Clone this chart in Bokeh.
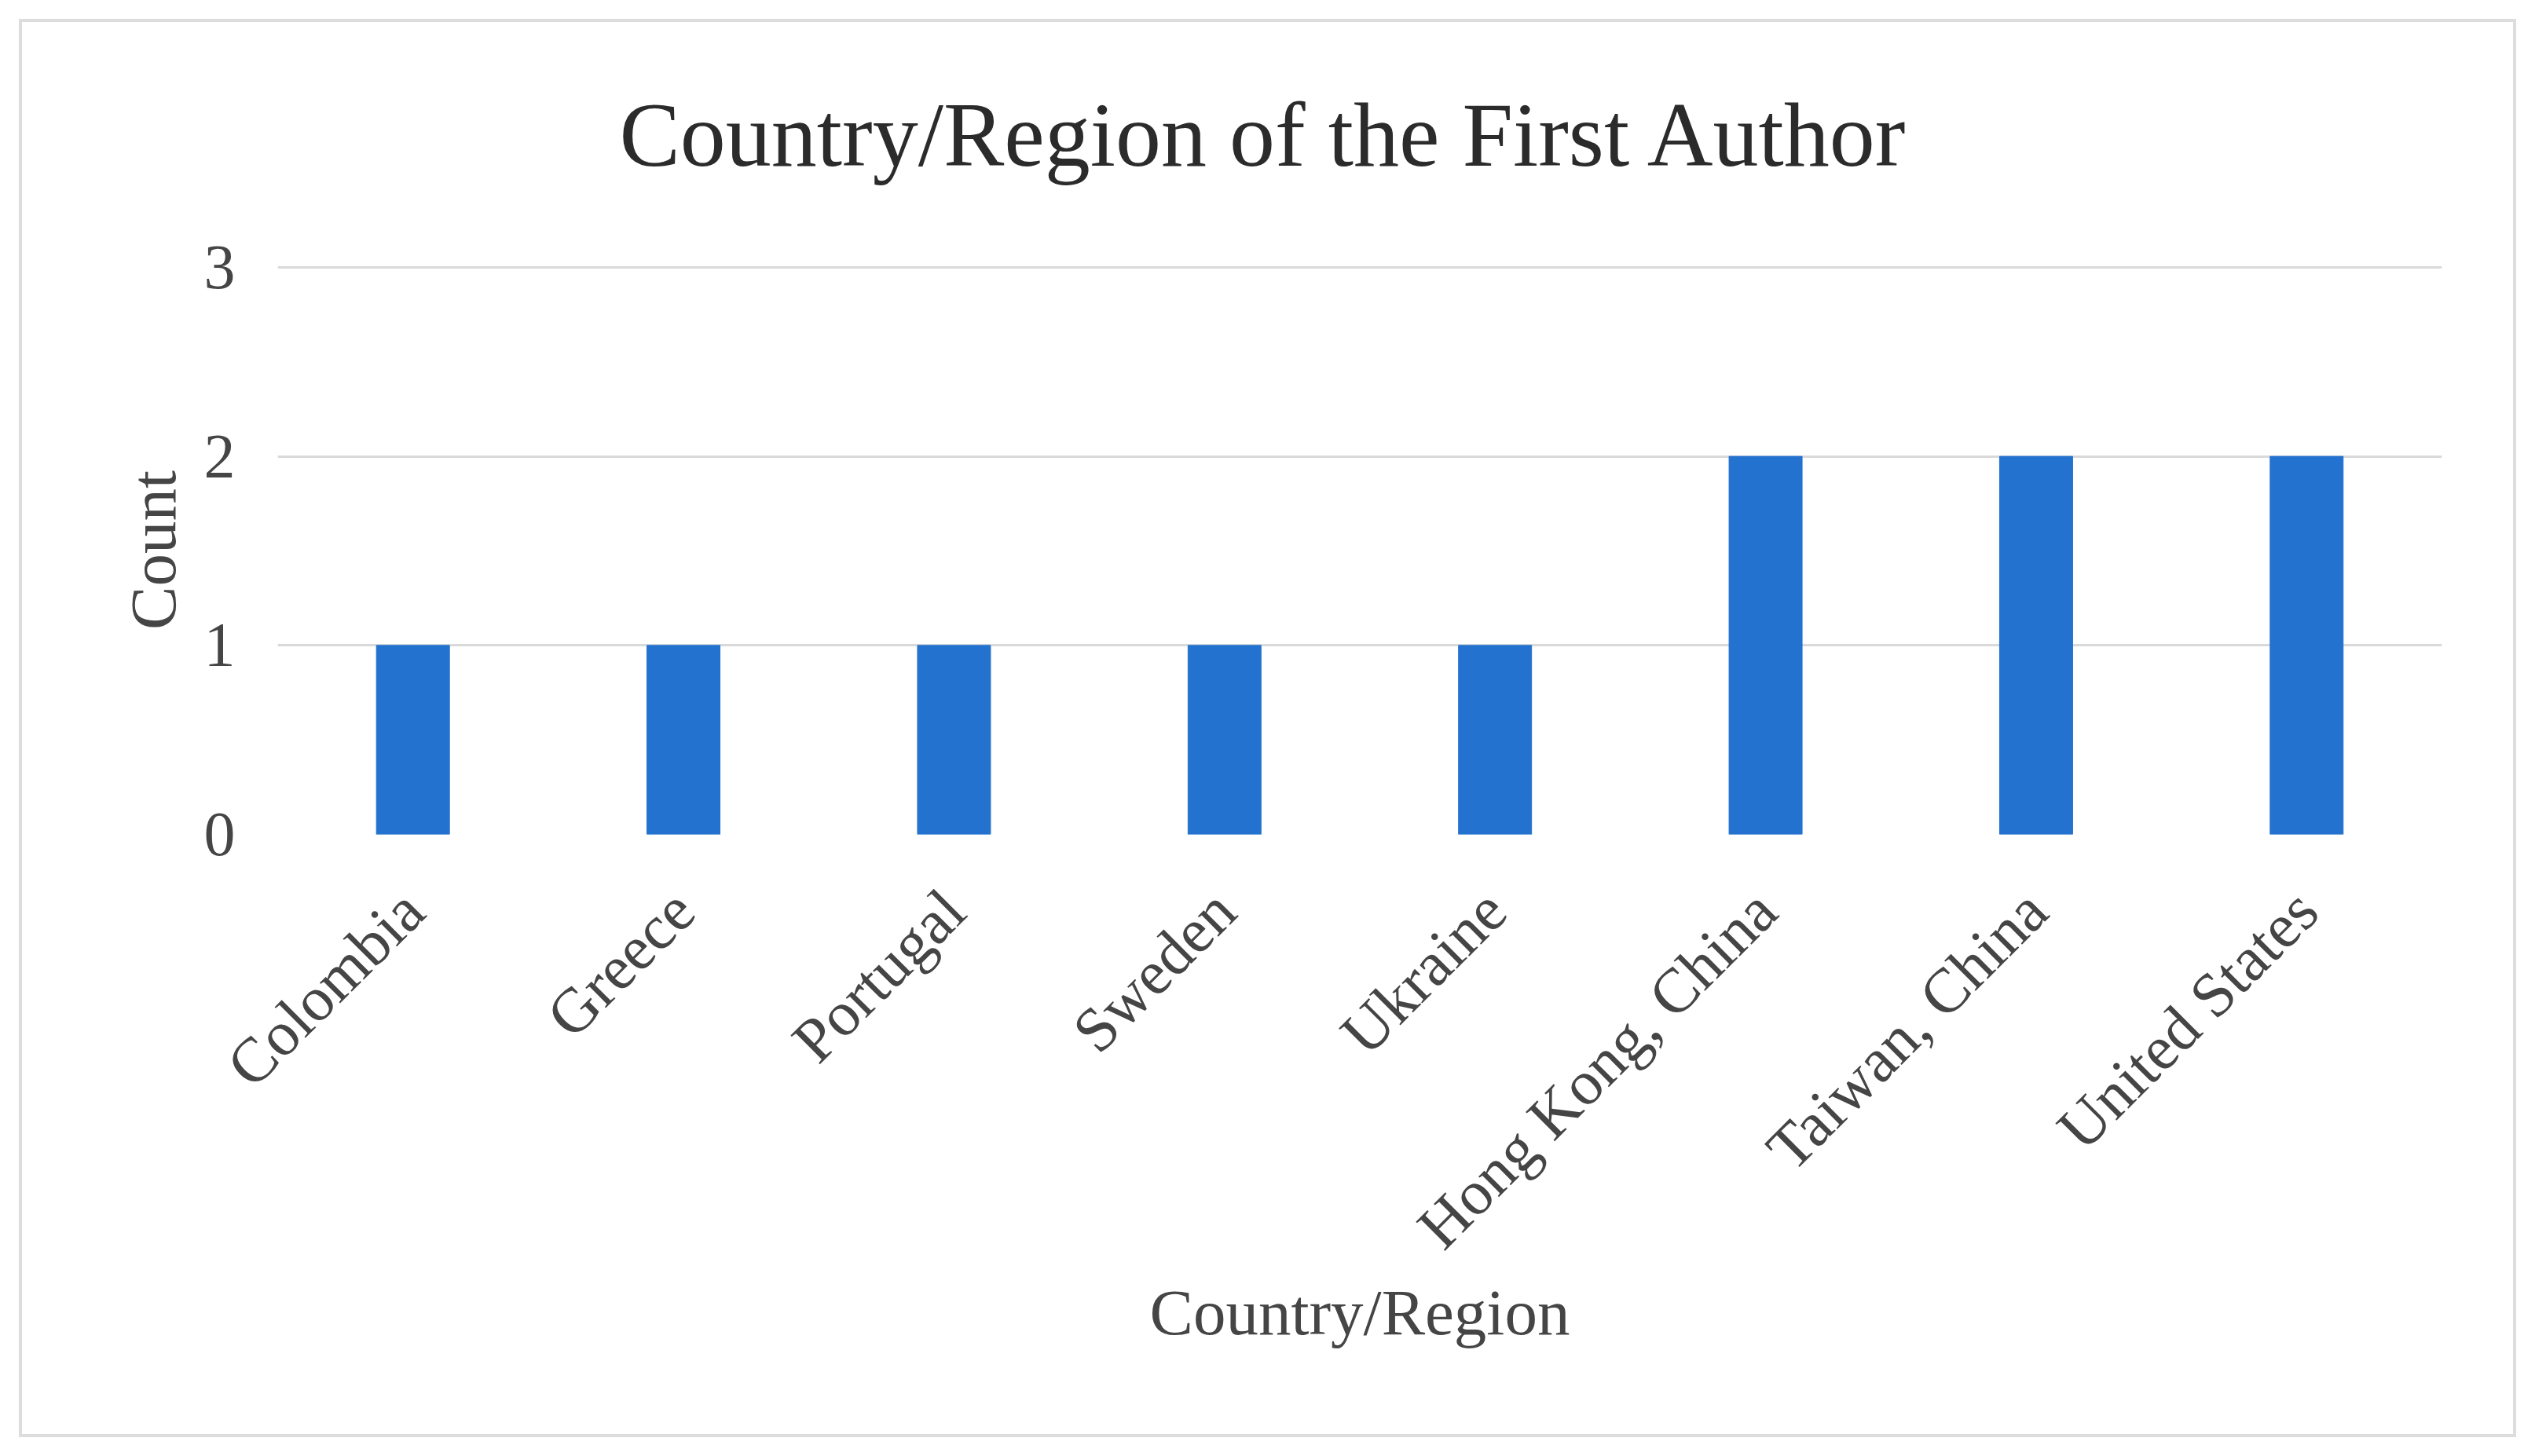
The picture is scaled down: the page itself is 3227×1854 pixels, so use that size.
import math
from bokeh.plotting import figure
from bokeh.models import Range1d, FixedTicker
from bokeh.embed import file_html
from bokeh.resources import INLINE

categories = ["Colombia", "Greece", "Portugal", "Sweden", "Ukraine",
              "Hong Kong, China", "Taiwan, China", "United States"]
counts = [1, 1, 1, 1, 1, 2, 2, 2]
y_ticks = [0, 1, 2, 3]

FONT = "Liberation Serif"
TITLE_TXT = "#2B2B2B"
TXT = "#454545"
GRID = "#D9D9D9"
BAR = "#2472CF"

p = figure(x_range=categories, y_range=Range1d(0, 3.008),
           width=3227, height=1854,
           output_backend="svg", toolbar_location=None,
           min_border_left=353, min_border_right=119,
           min_border_top=338, min_border_bottom=792)
p.styles = {"outline": "4px solid #DDDDDD", "outline-offset": "-28px",
            "background-color": "white"}

p.vbar(x=categories, top=counts, width=0.27, color=BAR)

p.title.text = "Country/Region of the First Author"
p.title.text_font = FONT
p.title.text_font_size = "116px"
p.title.text_font_style = "normal"
p.title.text_color = TITLE_TXT
p.title.align = "left"
p.title.offset = 435
p.title.standoff = 206

p.outline_line_color = None
p.background_fill_color = "white"
p.border_fill_color = None

p.xgrid.grid_line_color = None
p.ygrid.grid_line_color = GRID
p.ygrid.grid_line_width = 3
p.yaxis.ticker = FixedTicker(ticks=y_ticks)

for ax in (p.xaxis, p.yaxis):
    ax.axis_line_color = None
    ax.major_tick_line_color = None
    ax.minor_tick_line_color = None
    ax.major_label_text_font = FONT
    ax.major_label_text_font_size = "80px"
    ax.major_label_text_color = TXT
    ax.axis_label_text_font = FONT
    ax.axis_label_text_font_size = "83px"
    ax.axis_label_text_font_style = "normal"
    ax.axis_label_text_color = TXT

p.xaxis.axis_label = "Country/Region"
p.yaxis.axis_label = "Count"
p.xaxis.major_label_orientation = math.pi / 4
p.xaxis.major_label_standoff = 78
p.xaxis.axis_label_standoff = -16
p.yaxis.major_label_standoff = 48
p.yaxis.axis_label_standoff = 16

open("out.html", "w").write(file_html(p, INLINE))
